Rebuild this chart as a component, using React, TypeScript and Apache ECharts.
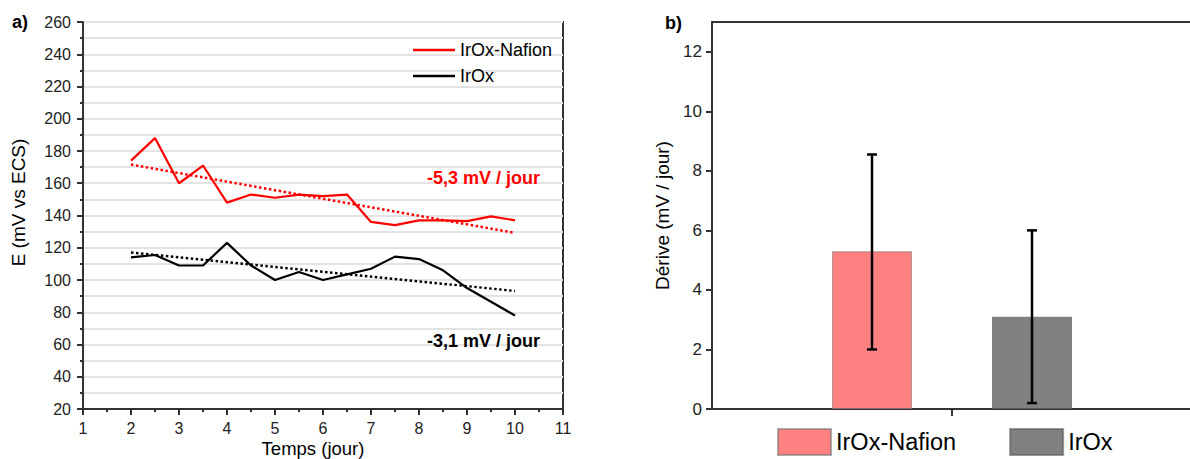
import React, { useEffect, useRef } from "react";
import * as echarts from "echarts";

// ---------- Data (a) ----------
const days = [2, 2.5, 3, 3.5, 4, 4.5, 5, 5.5, 6, 6.5, 7, 7.5, 8, 8.5, 9, 9.5, 10];
const irOxNafionE = [174, 188, 160, 171, 148, 153, 151, 153, 152, 153, 136, 134, 137, 137, 136.5, 139.5, 137];
const irOxE = [114, 115.5, 109, 109, 123, 109, 100, 105, 100, 103.5, 107, 114.5, 113, 106, 95, 86.5, 78];
const trendDays = [2, 10];
const irOxNafionTrend = [171.6, 129.2];
const irOxTrend = [117.1, 93.2];
const seriesNames = ["IrOx-Nafion", "IrOx"];
const slopeLabels = ["-5,3 mV / jour", "-3,1 mV / jour"];

// ---------- Data (b) ----------
const driftValues = [5.3, 3.1];
const driftErrLow = [2.0, 0.2];
const driftErrHigh = [8.55, 6.0];
const driftTicks = [0, 2, 4, 6, 8, 10, 12];

const FONT = "'Liberation Sans', Arial, sans-serif";
const AXIS = "#333";
const RED = "#ff0000";
const BLACK = "#000000";

function leftOption(): any {
  const axisLine = { lineStyle: { color: AXIS, width: 2 } };
  return {
    animation: false,
    textStyle: { fontFamily: FONT },
    grid: {
      left: 83, top: 22, width: 480, height: 387,
      outerBoundsMode: "none", containLabel: false,
      show: true, borderColor: AXIS, borderWidth: 2, backgroundColor: "transparent",
    },
    legend: {
      data: seriesNames,
      orient: "vertical",
      left: 408, top: 36,
      itemWidth: 42, itemHeight: 14, itemGap: 8,
      icon: "path://M0 0H42V2.4H0Z",
      selectedMode: false,
      textStyle: { fontSize: 18, color: "#000", fontFamily: FONT },
    },
    xAxis: {
      type: "value", min: 1, max: 11, interval: 1,
      axisLine: { ...axisLine, onZero: false },
      axisTick: { length: 6, lineStyle: { color: AXIS, width: 2 } },
      minorTick: { show: true, splitNumber: 2, length: 3, lineStyle: { color: AXIS, width: 2 } },
      axisLabel: { fontSize: 16, color: "#222", margin: 11, fontFamily: FONT },
      splitLine: { show: false },
    },
    yAxis: {
      type: "value", min: 20, max: 260, interval: 20,
      name: "E (mV vs ECS)", nameLocation: "middle", nameGap: 55, nameRotate: 90,
      nameTextStyle: { fontSize: 19, color: "#000", fontFamily: FONT, padding: [0, 0, 0, 26] },
      axisLine: { ...axisLine, onZero: false },
      axisTick: { length: 6, lineStyle: { color: AXIS, width: 2 } },
      minorTick: { show: true, splitNumber: 2, length: 3, lineStyle: { color: AXIS, width: 2 } },
      axisLabel: { fontSize: 16, color: "#222", margin: 12, fontFamily: FONT },
      splitLine: { show: true, lineStyle: { color: "#e3e3e3", width: 2 } },
      minorSplitLine: { show: true, lineStyle: { color: "#e3e3e3", width: 2 } },
    },
    graphic: [
      { type: "text", x: 12, y: 22, style: { text: "a)", fill: "#000", fontSize: 18, fontWeight: "bold", fontFamily: FONT, verticalAlign: "middle" } },
      { type: "text", x: 313, y: 458, style: { text: "Temps (jour)", fill: "#000", fontSize: 18.5, fontFamily: FONT, align: "center", verticalAlign: "bottom" } },
      { type: "text", x: 427, y: 178, z: 20, style: { text: slopeLabels[0], fill: RED, fontSize: 18, fontWeight: "bold", fontFamily: FONT, verticalAlign: "middle" } },
      { type: "text", x: 427, y: 341, z: 20, style: { text: slopeLabels[1], fill: BLACK, fontSize: 18, fontWeight: "bold", fontFamily: FONT, verticalAlign: "middle" } },
    ],
    series: [
      {
        name: seriesNames[0], type: "line", symbol: "none", color: RED,
        lineStyle: { color: RED, width: 2.2 },
        data: days.map((d, i) => [d, irOxNafionE[i]]), z: 5,
      },
      {
        name: seriesNames[1], type: "line", symbol: "none", color: BLACK,
        lineStyle: { color: BLACK, width: 2.2 },
        data: days.map((d, i) => [d, irOxE[i]]), z: 5,
      },
      {
        name: "trend-1", type: "line", symbol: "none",
        lineStyle: { color: RED, width: 2.5, type: [2.5, 2.5] },
        data: trendDays.map((d, i) => [d, irOxNafionTrend[i]]), z: 4,
      },
      {
        name: "trend-2", type: "line", symbol: "none",
        lineStyle: { color: BLACK, width: 2.5, type: [2.5, 2.5] },
        data: trendDays.map((d, i) => [d, irOxTrend[i]]), z: 4,
      },
    ],
  };
}

function rightOption(): any {
  const axisLine = { lineStyle: { color: AXIS, width: 2 } };
  const barColors = ["#ff8080", "#808080"];
  const barBorders = ["rgba(120,120,120,0.6)", "rgba(90,90,90,0.6)"];
  return {
    animation: false,
    textStyle: { fontFamily: FONT },
    grid: { left: 112, top: 22, width: 480, height: 387, outerBoundsMode: "none", containLabel: false },
    legend: {
      data: seriesNames,
      left: 172, top: 423,
      icon: "rect",
      itemWidth: 53, itemHeight: 26, itemGap: 53,
      selectedMode: false,
      textStyle: { fontSize: 23.5, color: "#000", fontFamily: FONT },
    },
    xAxis: [
      {
        type: "value", min: 0, max: 6,
        axisLine: { ...axisLine, onZero: false },
        axisTick: { show: true, customValues: [3], length: 7, lineStyle: { color: AXIS, width: 2 } },
        axisLabel: { show: false },
        splitLine: { show: false },
      },
      {
        type: "value", min: 0, max: 6, position: "top",
        axisLine: { ...axisLine, onZero: false },
        axisTick: { show: false }, axisLabel: { show: false }, splitLine: { show: false },
      },
    ],
    yAxis: {
      type: "value", min: 0, max: 13,
      name: "Dérive (mV / jour)", nameLocation: "middle", nameGap: 40, nameRotate: 90,
      nameTextStyle: { fontSize: 19, color: "#000", fontFamily: FONT },
      axisLine: { ...axisLine, onZero: false },
      axisTick: { show: true, customValues: driftTicks, length: 6, lineStyle: { color: AXIS, width: 2 } },
      axisLabel: { customValues: driftTicks, fontSize: 17, color: "#222", margin: 10, fontFamily: FONT },
      splitLine: { show: false },
    },
    graphic: [
      { type: "text", x: 65, y: 23, style: { text: "b)", fill: "#000", fontSize: 18, fontWeight: "bold", fontFamily: FONT, verticalAlign: "middle" } },
    ],
    series: [
      ...seriesNames.map((name, i) => ({
        name, type: "bar", stack: "drift", barWidth: 80,
        itemStyle: { color: barColors[i], borderColor: barBorders[i], borderWidth: 1 },
        data: [[2 + 2 * i, driftValues[i]]],
      })),
      {
        name: "errors", type: "custom",
        data: driftValues.map((_, i) => [2 + 2 * i, driftErrLow[i], driftErrHigh[i]]),
        encode: { x: 0, y: [1, 2] },
        z: 10,
        renderItem: (params: any, api: any) => {
          const x = api.value(0);
          const lo = api.coord([x, api.value(1)]);
          const hi = api.coord([x, api.value(2)]);
          const cap = 5;
          const style = { stroke: "#000", lineWidth: 2.5 };
          return {
            type: "group",
            children: [
              { type: "line", shape: { x1: lo[0], y1: lo[1], x2: hi[0], y2: hi[1] }, style },
              { type: "line", shape: { x1: lo[0] - cap, y1: lo[1], x2: lo[0] + cap, y2: lo[1] }, style },
              { type: "line", shape: { x1: hi[0] - cap, y1: hi[1], x2: hi[0] + cap, y2: hi[1] }, style },
            ],
          };
        },
      },
    ],
  };
}

function Chart({ option, style }: { option: any; style: React.CSSProperties }) {
  const ref = useRef<HTMLDivElement>(null);
  useEffect(() => {
    if (!ref.current) return;
    const chart = echarts.init(ref.current, undefined, { renderer: "svg" });
    chart.setOption(option);
    return () => chart.dispose();
  }, [option]);
  return <div ref={ref} style={style} />;
}

const LEFT = leftOption();
const RIGHT = rightOption();

export default function App() {
  return (
    <div style={{ position: "fixed", left: 0, top: 0, width: 1190, height: 459, overflow: "hidden", background: "#fff" }}>
      <Chart option={LEFT} style={{ position: "absolute", left: 0, top: 0, width: 600, height: 459 }} />
      <Chart option={RIGHT} style={{ position: "absolute", left: 600, top: 0, width: 600, height: 459 }} />
    </div>
  );
}
